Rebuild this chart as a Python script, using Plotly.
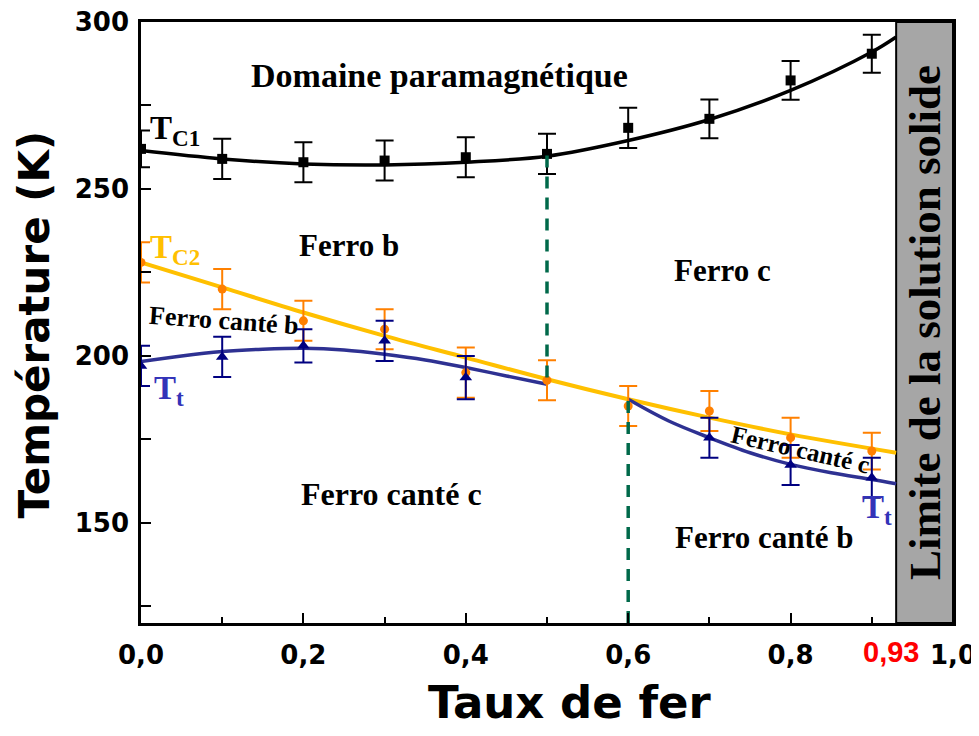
import plotly.graph_objects as go

# ---------------- data ----------------
x_pts = [0.0, 0.1, 0.2, 0.3, 0.4, 0.5, 0.6, 0.7, 0.8, 0.9]
tc1_y = [262.0, 259.0, 258.0, 258.5, 259.5, 260.5, 268.3, 271.0, 282.5, 290.5]
tc1_err = [5.5, 6.0, 6.0, 6.0, 6.0, 6.0, 6.0, 5.8, 5.8, 5.7]

tc2_y = [228.0, 220.0, 210.5, 208.0, 195.0, 192.7, 185.0, 183.5, 175.5, 171.5]
tc2_err = [6.0, 6.0, 6.0, 6.0, 7.5, 6.0, 6.0, 6.0, 6.0, 5.5]

tt_x = [0.0, 0.1, 0.2, 0.3, 0.4, 0.7, 0.8, 0.9]
tt_y = [197.0, 199.7, 203.0, 204.5, 193.5, 175.5, 167.3, 163.5]
tt_err = [6.0, 6.0, 5.0, 6.0, 6.5, 6.0, 6.0, 6.0]

# fitted curves
fit1_x = [0.0, 0.1, 0.2, 0.3, 0.4, 0.5, 0.6, 0.7, 0.8, 0.9, 0.93]
fit1_y = [261.5, 259.0, 257.5, 257.2, 258.0, 259.8, 264.5, 270.8, 279.5, 291.0, 295.5]

fit2_x = [0.0, 0.1, 0.2, 0.3, 0.4, 0.5, 0.6, 0.7, 0.8, 0.93]
fit2_y = [228.0, 220.5, 213.0, 206.0, 199.5, 193.0, 187.0, 181.5, 176.5, 171.0]

fitt_a_x = [0.0, 0.05, 0.1, 0.15, 0.2, 0.25, 0.3, 0.35, 0.4, 0.45, 0.5]
fitt_a_y = [198.3, 200.0, 201.3, 202.0, 202.3, 201.8, 200.5, 198.8, 196.5, 194.0, 191.5]
fitt_b_x = [0.6, 0.65, 0.7, 0.75, 0.8, 0.85, 0.9, 0.93]
fitt_b_y = [187.0, 180.5, 175.5, 171.0, 167.5, 165.0, 163.0, 161.7]

dash1_x = [0.5, 0.5]
dash1_y = [260.0, 192.5]
dash2_x = [0.6, 0.6]
dash2_y = [186.5, 120.0]

x_tickvals = [0.0, 0.2, 0.4, 0.6, 0.8, 1.0]
x_ticktext = ["0,0", "0,2", "0,4", "0,6", "0,8", "1,0"]
y_tickvals = [150, 200, 250, 300]
limit_x = 0.93
limit_label = "0,93"

# ---------------- figure ----------------
fig = go.Figure()

fig.add_shape(type="rect", x0=limit_x, x1=1.0, y0=120, y1=300, xref="x", yref="y",
              fillcolor="#A6A6A6", line=dict(color="black", width=2), layer="below")

# curves
fig.add_trace(go.Scatter(x=fit1_x, y=fit1_y, mode="lines", line=dict(color="black", width=3.5, shape="spline"),
                         showlegend=False, hoverinfo="skip"))
fig.add_trace(go.Scatter(x=fit2_x, y=fit2_y, mode="lines", line=dict(color="#FFC000", width=4, shape="spline"),
                         showlegend=False, hoverinfo="skip"))
fig.add_trace(go.Scatter(x=fitt_a_x, y=fitt_a_y, mode="lines", line=dict(color="#2E3192", width=3.5, shape="spline"),
                         showlegend=False, hoverinfo="skip"))
fig.add_trace(go.Scatter(x=fitt_b_x, y=fitt_b_y, mode="lines", line=dict(color="#2E3192", width=3.5, shape="spline"),
                         showlegend=False, hoverinfo="skip"))

# data points
fig.add_trace(go.Scatter(x=x_pts, y=tc1_y, mode="markers",
                         marker=dict(symbol="square", size=10, color="black"),
                         error_y=dict(type="data", array=tc1_err, color="black", thickness=2, width=9),
                         showlegend=False))
fig.add_trace(go.Scatter(x=x_pts, y=tc2_y, mode="markers",
                         marker=dict(symbol="circle", size=9, color="#FF8000"),
                         error_y=dict(type="data", array=tc2_err, color="#FF8000", thickness=2, width=9),
                         showlegend=False))
fig.add_trace(go.Scatter(x=tt_x, y=tt_y, mode="markers",
                         marker=dict(symbol="triangle-up", size=11, color="#000080"),
                         error_y=dict(type="data", array=tt_err, color="#000080", thickness=2, width=9),
                         showlegend=False))

# dashed boundaries
for dx, dy in ((dash1_x, dash1_y), (dash2_x, dash2_y)):
    fig.add_trace(go.Scatter(x=dx, y=dy, mode="lines",
                             line=dict(color="#00694A", width=3.5, dash="12px,9px"),
                             showlegend=False, hoverinfo="skip"))

serif = "Liberation Serif, Times New Roman, serif"
sans = "DejaVu Sans, Arial, sans-serif"

def ann(text, x, y, size, color="black", angle=0, xanchor="center"):
    fig.add_annotation(x=x, y=y, xref="x", yref="y", text=text, showarrow=False,
                       textangle=angle, xanchor=xanchor, yanchor="middle",
                       font=dict(family=serif, size=size, color=color))

ann("<b>Domaine paramagnétique</b>", 0.368, 284.0, 34)
ann("<b>T<sub>C1</sub></b>", 0.008, 267.5, 33, xanchor="left")
ann("<b>T<sub>C2</sub></b>", 0.009, 232.0, 33, color="#FFC000", xanchor="left")
ann("<b>Ferro b</b>", 0.256, 233.1, 31)
ann("<b>Ferro c</b>", 0.716, 225.6, 31)
ann("<b>Ferro canté b</b>", 0.102, 210.5, 26, angle=4)
ann("<b>T<sub>t</sub></b>", 0.013, 189.5, 33, color="#3333B8", xanchor="left")
ann("<b>Ferro canté c</b>", 0.308, 158.7, 32)
ann("<b>Ferro canté c</b>", 0.812, 172.0, 25, angle=13)
ann("<b>Ferro canté b</b>", 0.767, 145.6, 31)
ann("<b>T<sub>t</sub></b>", 0.885, 154.0, 33, color="#3333B8", xanchor="left")

fig.add_annotation(x=0.965, y=210, xref="x", yref="y", text="<b>Limite de la solution solide</b>",
                   showarrow=False, textangle=-90, font=dict(family=serif, size=45, color="black"))

# red 0,93 tick label
fig.add_annotation(x=0.924, y=0, xref="x", yref="paper", text="<b>" + limit_label + "</b>", showarrow=False,
                   yanchor="top", yshift=-11,
                   font=dict(family="Liberation Sans Narrow, Liberation Sans, Arial, sans-serif", size=29, color="#FF0000"))

# axis titles
fig.add_annotation(x=0.528, y=0, xref="paper", yref="paper", text="<b>Taux de fer</b>", showarrow=False,
                   yanchor="top", yshift=-51, font=dict(family=sans, size=45, color="black"))
fig.add_annotation(x=0, y=0.496, xref="paper", yref="paper", text="<b>Température (K)</b>", showarrow=False,
                   textangle=-90, xanchor="right", xshift=-81, borderpad=0,
                   font=dict(family=sans, size=42, color="black"))

fig.update_xaxes(range=[0, 1.0], tickvals=x_tickvals, ticktext=x_ticktext, automargin=False,
                 ticks="inside", ticklen=10, tickwidth=2, tickcolor="black",
                 minor=dict(ticks="inside", ticklen=6, tickwidth=2, tickcolor="black", dtick=0.1, tick0=0.1),
                 showline=True, linewidth=2.5, linecolor="black", mirror=True,
                 showgrid=False, zeroline=False, ticklabelstandoff=7, ticklabeloverflow="allow",
                 tickfont=dict(family=sans, size=26, color="black", weight="bold"))
fig.update_yaxes(range=[120, 300], tickvals=y_tickvals, automargin=False,
                 ticks="inside", ticklen=10, tickwidth=2, tickcolor="black",
                 minor=dict(ticks="inside", ticklen=10, tickwidth=2, tickcolor="black", dtick=25, tick0=125),
                 showline=True, linewidth=2.5, linecolor="black", mirror=True,
                 showgrid=False, zeroline=False, ticklabelstandoff=4, ticklabeloverflow="allow",
                 tickfont=dict(family=sans, size=26, color="black", weight="bold"))

# page has an 8px body margin, so the figure is sized to fit and offset accordingly
fig.update_layout(width=971, height=728, margin=dict(l=133, r=26, t=14, b=113, autoexpand=False),
                  plot_bgcolor="white", paper_bgcolor="white", showlegend=False)

fig.write_html("out.html")
